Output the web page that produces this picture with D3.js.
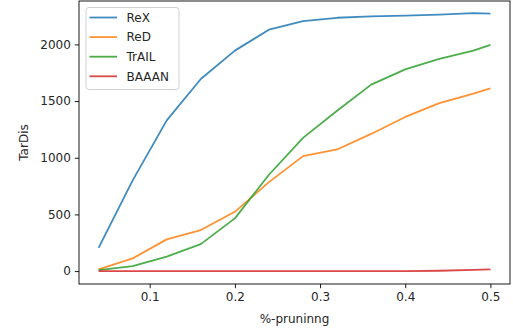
<!DOCTYPE html>
<html>
<head>
<meta charset="utf-8">
<script src="https://cdn.jsdelivr.net/npm/d3@7"></script>
<style>
  body { margin: 0; background: #fff; }
  svg { display: block; }
  svg text { font-family: "DejaVu Sans", sans-serif; }
</style>
</head>
<body>
<div id="chart"></div>
<script>
// x values (fraction pruned)
const pruning = [0.04, 0.08, 0.12, 0.16, 0.20, 0.24, 0.28, 0.32, 0.36, 0.40, 0.44, 0.48, 0.50];

// one array per method
const rex   = [205, 800, 1330, 1695, 1945, 2130, 2205, 2235, 2247, 2254, 2262, 2276, 2272];
const red   = [15, 112, 280, 362, 523, 785, 1014, 1073, 1210, 1360, 1482, 1565, 1612];
const trail = [8, 44, 128, 238, 465, 850, 1175, 1415, 1645, 1780, 1872, 1945, 1995];
const baaan = [0, 0, 0, 0, 0, 0, 0, 0, 0, 0, 3, 10, 15];

const seriesNames = ["ReX", "ReD", "TrAIL", "BAAAN"];
const seriesColors = ["#1f77b4", "#ff7f0e", "#2ca02c", "#d62728"];
const yTicks = [0, 500, 1000, 1500, 2000];
const xTicks = [0.1, 0.2, 0.3, 0.4, 0.5];

const width = 513, height = 332;
const margin = { left: 79, right: 3, top: 1, bottom: 48 };
const fontSize = "12px";
const lineAlpha = 0.85;

const svg = d3.select("#chart").append("svg")
  .attr("width", width)
  .attr("height", height);

// matplotlib style 5% padding around the data
const xScale = d3.scaleLinear()
  .domain([0.017, 0.523])
  .range([margin.left, width - margin.right]);
const yScale = d3.scaleLinear()
  .domain([-114, 2383])
  .range([height - margin.bottom, margin.top]);

const allSeries = [rex, red, trail, baaan];

const line = d3.line()
  .x((d, i) => xScale(pruning[i]))
  .y(d => yScale(d));

const plot = svg.append("g");

allSeries.forEach((vals, k) => {
  plot.append("path")
    .datum(vals)
    .attr("d", line)
    .attr("fill", "none")
    .attr("stroke", seriesColors[k])
    .attr("stroke-opacity", lineAlpha)
    .attr("stroke-width", 1.8)
    .attr("stroke-linejoin", "round")
    .attr("stroke-linecap", "butt");
});

// axes
const xAxis = d3.axisBottom(xScale)
  .tickValues(xTicks)
  .tickFormat(d3.format(".1f"))
  .tickSize(4.2)
  .tickPadding(4);
const yAxis = d3.axisLeft(yScale)
  .tickValues(yTicks)
  .tickFormat(d3.format("d"))
  .tickSize(4.2)
  .tickPadding(4);

const gx = svg.append("g")
  .attr("transform", `translate(0,${height - margin.bottom})`)
  .call(xAxis);
const gy = svg.append("g")
  .attr("transform", `translate(${margin.left},0)`)
  .call(yAxis);

[gx, gy].forEach(g => {
  g.attr("font-family", null).attr("font-size", null);
  g.select(".domain").remove();
  g.selectAll(".tick line").attr("stroke", "#000").attr("stroke-width", 0.9);
  g.selectAll(".tick text").attr("fill", "#262626").style("font-size", fontSize);
});

// frame
svg.append("rect")
  .attr("x", margin.left)
  .attr("y", margin.top)
  .attr("width", width - margin.right - margin.left)
  .attr("height", height - margin.bottom - margin.top)
  .attr("fill", "none")
  .attr("stroke", "#000")
  .attr("stroke-width", 0.9);

// axis labels
svg.append("text")
  .attr("x", (margin.left + width - margin.right) / 2)
  .attr("y", 323)
  .attr("text-anchor", "middle")
  .attr("fill", "#262626")
  .style("font-size", fontSize)
  .text("%-pruninng");

svg.append("text")
  .attr("transform", `translate(28,${(margin.top + height - margin.bottom) / 2}) rotate(-90)`)
  .attr("text-anchor", "middle")
  .attr("fill", "#262626")
  .style("font-size", fontSize)
  .text("TarDis");

// legend
const legend = svg.append("g").attr("transform", "translate(86,7.5)");
legend.append("rect")
  .attr("width", 93)
  .attr("height", 82)
  .attr("rx", 3)
  .attr("fill", "#fff")
  .attr("fill-opacity", 0.8)
  .attr("stroke", "#cccccc")
  .attr("stroke-width", 0.9);

seriesNames.forEach((name, k) => {
  const yy = 10 + k * 19.6;
  legend.append("line")
    .attr("x1", 3.5).attr("x2", 31)
    .attr("y1", yy).attr("y2", yy)
    .attr("stroke", seriesColors[k])
    .attr("stroke-opacity", lineAlpha)
    .attr("stroke-width", 1.8);
  legend.append("text")
    .attr("x", 40.5)
    .attr("y", yy)
    .attr("dy", "0.36em")
    .attr("fill", "#262626")
    .style("font-size", fontSize)
    .text(name);
});
</script>
</body>
</html>
